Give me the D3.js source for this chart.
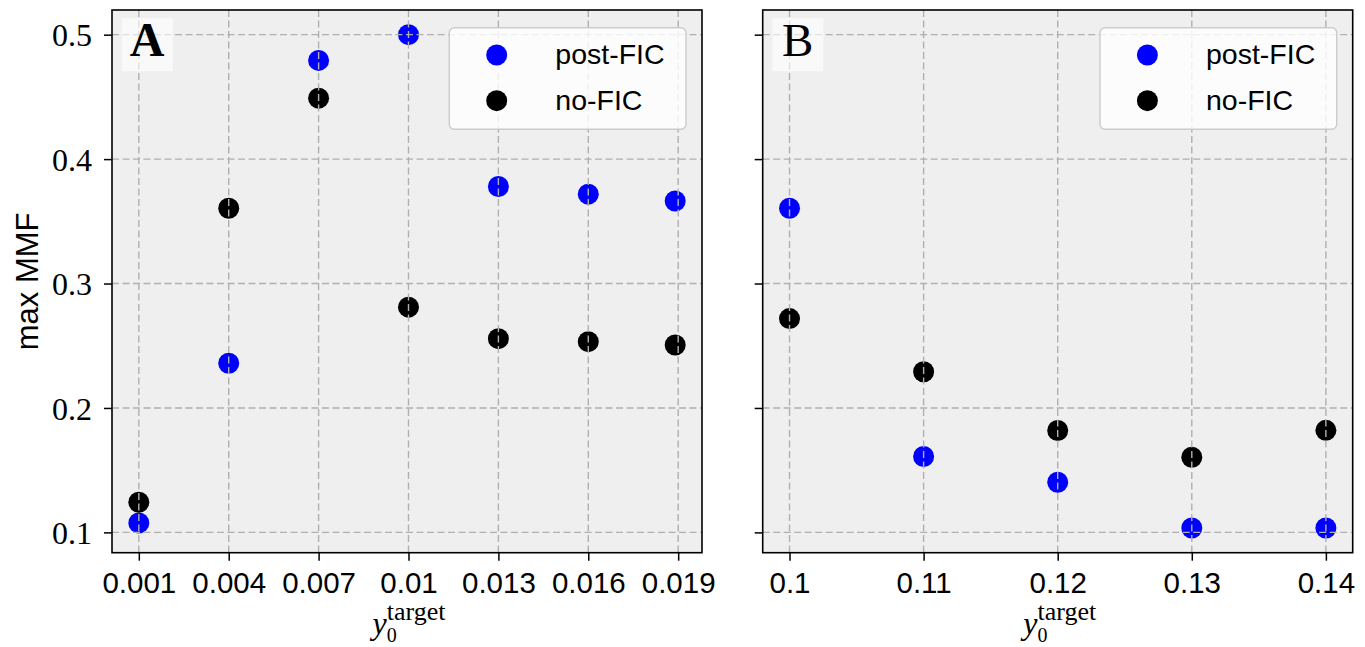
<!DOCTYPE html>
<html>
<head>
<meta charset="utf-8">
<script src="https://cdn.jsdelivr.net/npm/d3@7"></script>
<style>
  body { margin: 0; background: #fff; }
</style>
</head>
<body>
<div id="chart"></div>
<script>

// data
var xA = [0.001, 0.004, 0.007, 0.01, 0.013, 0.016, 0.0189];
var postA = [0.1076, 0.2359, 0.4793, 0.5, 0.378, 0.3718, 0.3663];
var noA = [0.1242, 0.3605, 0.449, 0.281, 0.2557, 0.2533, 0.2506];

var xB = [0.1, 0.11, 0.12, 0.13, 0.14];
var postB = [0.3605, 0.161, 0.1403, 0.1035, 0.1035];
var noB = [0.2718, 0.2291, 0.1819, 0.1604, 0.182];

var ticksA = [0.001, 0.004, 0.007, 0.01, 0.013, 0.016, 0.019];
var tickLabelsA = ["0.001", "0.004", "0.007", "0.01", "0.013", "0.016", "0.019"];
var ticksB = [0.1, 0.11, 0.12, 0.13, 0.14];
var tickLabelsB = ["0.1", "0.11", "0.12", "0.13", "0.14"];
var yTicks = [0.1, 0.2, 0.3, 0.4, 0.5];
var yTickLabels = ["0.1", "0.2", "0.3", "0.4", "0.5"];

var seriesNames = ["post-FIC", "no-FIC"];
var seriesColors = ["#0000ff", "#000000"];

var svgWidth = 1365;
var svgHeight = 647;

var svg = d3.select("#chart")
  .append("svg")
  .attr("width", svgWidth)
  .attr("height", svgHeight);

// shared y scale (sharey)
var plotTop = 10, plotBottom = 552.7;
var allY = postA.concat(noA, postB, noB);
var yMin = d3.min(allY);
var yMax = d3.max(allY);
var yPad = (yMax - yMin) * 0.05;
var yScale = d3.scaleLinear()
  .domain([yMin - yPad, yMax + yPad])
  .range([plotBottom, plotTop]);

function drawPanel(opt) {
  var left = opt.left, right = opt.left + 590;
  var xPad = (d3.max(opt.xs) - d3.min(opt.xs)) * 0.05;
  var xScale = d3.scaleLinear()
    .domain([d3.min(opt.xs) - xPad, d3.max(opt.xs) + xPad])
    .range([left, right]);

  var g = svg.append("g");

  // axes background
  g.append("rect")
    .attr("x", left).attr("y", plotTop)
    .attr("width", right - left).attr("height", plotBottom - plotTop)
    .attr("fill", "#efefef");

  // points
  var sets = [opt.post, opt.no];
  sets.forEach(function(vals, i) {
    g.selectAll(null)
      .data(vals)
      .enter()
      .append("circle")
      .attr("cx", (d, j) => xScale(opt.xs[j]))
      .attr("cy", d => yScale(d))
      .attr("r", 10.5)
      .attr("fill", seriesColors[i]);
  });

  // grid on top of the points
  g.selectAll(null)
    .data(opt.ticks)
    .enter()
    .append("line")
    .attr("x1", d => xScale(d)).attr("x2", d => xScale(d))
    .attr("y1", plotTop).attr("y2", plotBottom)
    .attr("stroke", "#b0b0b0")
    .attr("stroke-width", 1.4)
    .attr("stroke-dasharray", "7,3.5");

  g.selectAll(null)
    .data(yTicks)
    .enter()
    .append("line")
    .attr("x1", left).attr("x2", right)
    .attr("y1", d => yScale(d)).attr("y2", d => yScale(d))
    .attr("stroke", "#b0b0b0")
    .attr("stroke-width", 1.4)
    .attr("stroke-dasharray", "7,3.5");

  // x axis
  var bottomAxis = d3.axisBottom(xScale)
    .tickValues(opt.ticks)
    .tickSize(8)
    .tickPadding(10)
    .tickFormat((d, i) => opt.tickLabels[i]);

  var xAxisG = g.append("g")
    .attr("transform", `translate(0, ${plotBottom})`)
    .call(bottomAxis);
  xAxisG.select(".domain").remove();
  xAxisG.selectAll(".tick line").attr("stroke", "#000").attr("stroke-width", 1.5);
  xAxisG.selectAll(".tick text")
    .attr("fill", "#000")
    .attr("dy", null)
    .attr("y", 40)
    .style("font-family", "'Liberation Sans', Arial, sans-serif")
    .style("font-size", "29.5px");

  // y axis
  var leftAxis = d3.axisLeft(yScale)
    .tickValues(yTicks)
    .tickSize(8)
    .tickPadding(12)
    .tickFormat((d, i) => opt.showY ? yTickLabels[i] : "");

  var yAxisG = g.append("g")
    .attr("transform", `translate(${left}, 0)`)
    .call(leftAxis);
  yAxisG.select(".domain").remove();
  yAxisG.selectAll(".tick line").attr("stroke", "#000").attr("stroke-width", 1.5);
  yAxisG.selectAll(".tick text")
    .attr("fill", "#000")
    .attr("dy", "0.35em")
    .style("font-family", "'Liberation Serif', 'Times New Roman', serif")
    .style("font-size", "32px");

  // frame
  g.append("rect")
    .attr("x", left).attr("y", plotTop)
    .attr("width", right - left).attr("height", plotBottom - plotTop)
    .attr("fill", "none")
    .attr("stroke", "#000")
    .attr("stroke-width", 1.6);

  // panel letter
  g.append("rect")
    .attr("x", left + 9.7).attr("y", 18.3)
    .attr("width", 51).attr("height", 53)
    .attr("fill", "#fff")
    .attr("opacity", 0.6);
  g.append("text")
    .attr("x", left + 35).attr("y", 56)
    .attr("text-anchor", "middle")
    .style("font-family", "'Liberation Serif', 'Times New Roman', serif")
    .style("font-weight", opt.bold ? "bold" : "normal")
    .style("font-size", opt.bold ? "48px" : "47px")
    .text(opt.letter);

  // legend
  var lx = right - 16 - 236.7, ly = 27.7;
  var legend = g.append("g");
  legend.append("rect")
    .attr("x", lx).attr("y", ly)
    .attr("width", 236.7).attr("height", 101.6)
    .attr("rx", 5)
    .attr("fill", "#fff")
    .attr("fill-opacity", 0.8)
    .attr("stroke", "#cccccc")
    .attr("stroke-width", 1.4);
  seriesNames.forEach(function(name, i) {
    legend.append("circle")
      .attr("cx", lx + 47.4)
      .attr("cy", ly + 27.3 + i * 45.7)
      .attr("r", 10.5)
      .attr("fill", seriesColors[i]);
    legend.append("text")
      .attr("x", lx + 106)
      .attr("y", ly + 36.6 + i * 45.7)
      .style("font-family", "'Liberation Sans', Arial, sans-serif")
      .style("font-size", "28.5px")
      .text(name);
  });

  // x label  y_0^target
  var xl = g.append("text")
    .attr("x", (left + right) / 2 + 2)
    .attr("y", 634)
    .attr("text-anchor", "middle")
    .style("font-family", "'Liberation Serif', 'Times New Roman', serif");
  xl.append("tspan")
    .style("font-style", "italic")
    .style("font-size", "32px")
    .text("y");
  xl.append("tspan")
    .attr("dy", 8)
    .style("font-size", "20px")
    .text("0");
  xl.append("tspan")
    .attr("dx", -10)
    .attr("dy", -22)
    .style("font-size", "26px")
    .text("target");
}

drawPanel({left: 112, xs: xA, post: postA, no: noA, ticks: ticksA, tickLabels: tickLabelsA,
  showY: true, letter: "A", bold: true});
drawPanel({left: 762.7, xs: xB, post: postB, no: noB, ticks: ticksB, tickLabels: tickLabelsB,
  showY: false, letter: "B", bold: false});

// y label
svg.append("text")
  .attr("transform", `translate(38, ${(plotTop + plotBottom) / 2}) rotate(-90)`)
  .attr("text-anchor", "middle")
  .style("font-family", "'Liberation Sans', Arial, sans-serif")
  .style("font-size", "31px")
  .text("max MMF");

</script>
</body>
</html>
